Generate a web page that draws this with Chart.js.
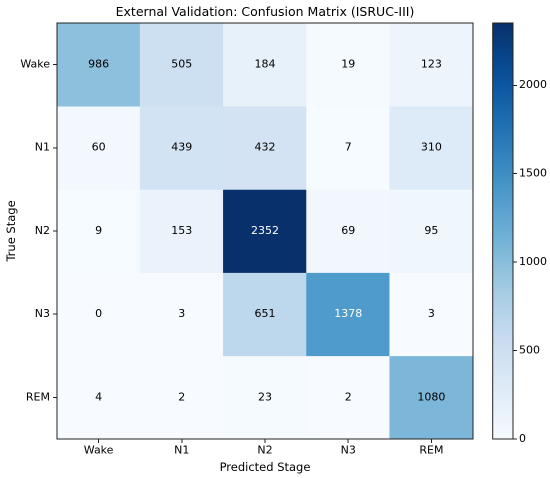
<!DOCTYPE html>
<html>
<head>
<meta charset="utf-8">
<script src="https://cdn.jsdelivr.net/npm/chart.js@4"></script>
<style>
  html, body { margin: 0; padding: 0; background: #fff; }
  #wrap { position: relative; width: 550px; height: 478px; }
  #matrix { position: absolute; left: 0; top: 0; }
  #cbar { position: absolute; left: 480px; top: 0; }
</style>
</head>
<body>
<div id="wrap">
  <canvas id="matrix" width="550" height="478"></canvas>
  <canvas id="cbar" width="70" height="478"></canvas>
</div>
<script>
// Données de la matrice de confusion
const predictedStages = ["Wake", "N1", "N2", "N3", "REM"];
const trueStages = ["Wake", "N1", "N2", "N3", "REM"];
const rowWake = [986, 505, 184, 19, 123];
const rowN1 = [60, 439, 432, 7, 310];
const rowN2 = [9, 153, 2352, 69, 95];
const rowN3 = [0, 3, 651, 1378, 3];
const rowREM = [4, 2, 23, 2, 1080];
const colorbarTicks = [0, 500, 1000, 1500, 2000];

const rows = [rowWake, rowN1, rowN2, rowN3, rowREM];
const maxValue = Math.max(...rows.flat());

// Palette "Blues" (matplotlib / ColorBrewer)
const BLUES = ["#f7fbff", "#deebf7", "#c6dbef", "#9ecae1", "#6baed6", "#4292c6", "#2171b5", "#08519c", "#08306b"];

function hexToRgb(h) {
    return [parseInt(h.slice(1, 3), 16), parseInt(h.slice(3, 5), 16), parseInt(h.slice(5, 7), 16)];
}

function blues(t) {
    t = Math.min(1, Math.max(0, t));
    const pos = t * (BLUES.length - 1);
    const i = Math.min(Math.floor(pos), BLUES.length - 2);
    const f = pos - i;
    const a = hexToRgb(BLUES[i]);
    const b = hexToRgb(BLUES[i + 1]);
    const c = a.map((v, k) => Math.round(v + (b[k] - v) * f));
    return `rgb(${c[0]},${c[1]},${c[2]})`;
}

const FONT = "'DejaVu Sans', sans-serif";
const TICK_SIZE = 11;
const LABEL_SIZE = 11.5;
Chart.defaults.font.family = FONT;
Chart.defaults.color = "#000";

// Cadre noir autour de la zone du graphique
const framePlugin = {
    id: "frame",
    afterDraw(chart) {
        const {ctx, chartArea} = chart;
        ctx.save();
        ctx.strokeStyle = "#222";
        ctx.lineWidth = 1;
        ctx.strokeRect(chartArea.left, chartArea.top, chartArea.right - chartArea.left, chartArea.bottom - chartArea.top);
        ctx.restore();
    }
};

// Centrer le titre au-dessus de la matrice
const centerTitle = {
    id: "centerTitle",
    afterLayout(chart) {
        if (chart.titleBlock) {
            chart.titleBlock.left = chart.chartArea.left;
            chart.titleBlock.right = chart.chartArea.right;
        }
    }
};

// Valeurs dans chaque cellule
const cellLabels = {
    id: "cellLabels",
    afterDatasetsDraw(chart) {
        const ctx = chart.ctx;
        ctx.save();
        ctx.font = TICK_SIZE + "px " + FONT;
        ctx.textAlign = "center";
        ctx.textBaseline = "middle";
        chart.data.datasets.forEach((ds, r) => {
            const meta = chart.getDatasetMeta(r);
            meta.data.forEach((el, c) => {
                const v = rows[r][c];
                ctx.fillStyle = v > maxValue / 2 ? "#fff" : "#000";
                ctx.fillText(String(v), el.x, (el.y + el.base) / 2);
            });
        });
        ctx.restore();
    }
};

const datasets = rows.map((row, r) => ({
    label: trueStages[r],
    data: row.map(() => [r, r + 1]),
    backgroundColor: row.map(v => blues(v / maxValue)),
    borderWidth: 0,
    barPercentage: 1,
    categoryPercentage: 1,
    grouped: false
}));

new Chart(document.getElementById("matrix"), {
    type: "bar",
    data: { labels: predictedStages, datasets: datasets },
    options: {
        responsive: false,
        animation: false,
        devicePixelRatio: 2,
        layout: { padding: { right: 77, left: 0, top: 0, bottom: 0 } },
        plugins: {
            legend: { display: false },
            tooltip: { enabled: false },
            title: {
                display: true,
                text: "External Validation: Confusion Matrix (ISRUC-III)",
                color: "#000",
                font: { size: 12.5, weight: "normal" },
                padding: { top: 5, bottom: 3 }
            }
        },
        scales: {
            x: {
                type: "category",
                grid: { drawOnChartArea: false, offset: false, tickLength: 4, color: "#222" },
                border: { display: true, color: "#222" },
                ticks: { padding: 1, font: { size: TICK_SIZE }, color: "#000", maxRotation: 0 },
                title: { display: true, text: "Predicted Stage", font: { size: LABEL_SIZE }, color: "#000", padding: { top: 3, bottom: 3 } },
                afterFit(scale) { scale.height = 39; }
            },
            y: {
                type: "linear",
                min: 0,
                max: trueStages.length,
                reverse: true,
                afterBuildTicks(scale) {
                    scale.ticks = trueStages.map((_, i) => ({ value: i + 0.5 }));
                },
                grid: { drawOnChartArea: false, tickLength: 4, color: "#222" },
                border: { display: true, color: "#222" },
                ticks: {
                    padding: 3,
                    font: { size: TICK_SIZE },
                    color: "#000",
                    callback: v => trueStages[Math.floor(v)]
                },
                title: { display: true, text: "True Stage", font: { size: LABEL_SIZE }, color: "#000", padding: { top: 5, bottom: 4 } },
                afterFit(scale) { scale.width = 57; }
            }
        }
    },
    plugins: [cellLabels, framePlugin, centerTitle]
});

// Barre de couleur
function gradientFill(context) {
    const chart = context.chart;
    const area = chart.chartArea;
    if (!area) return BLUES[0];
    const g = chart.ctx.createLinearGradient(0, area.bottom, 0, area.top);
    for (let i = 0; i <= 20; i++) {
        g.addColorStop(i / 20, blues(i / 20));
    }
    return g;
}

new Chart(document.getElementById("cbar"), {
    type: "bar",
    data: {
        labels: [""],
        datasets: [{
            data: [[0, maxValue]],
            backgroundColor: gradientFill,
            borderWidth: 0,
            barPercentage: 1,
            categoryPercentage: 1
        }]
    },
    options: {
        responsive: false,
        animation: false,
        devicePixelRatio: 2,
        layout: { padding: { left: 12.7, top: 23, bottom: 39, right: 0 } },
        plugins: { legend: { display: false }, tooltip: { enabled: false } },
        scales: {
            x: { display: false },
            y: {
                position: "right",
                min: 0,
                max: maxValue,
                afterBuildTicks(scale) {
                    scale.ticks = colorbarTicks.map(v => ({ value: v }));
                },
                grid: { drawOnChartArea: false, tickLength: 4, color: "#222" },
                border: { display: true, color: "#222" },
                ticks: { padding: 2, font: { size: TICK_SIZE }, color: "#000", callback: v => String(v) },
                afterFit(scale) { scale.width = 37; }
            }
        }
    },
    plugins: [framePlugin]
});
</script>
</body>
</html>
